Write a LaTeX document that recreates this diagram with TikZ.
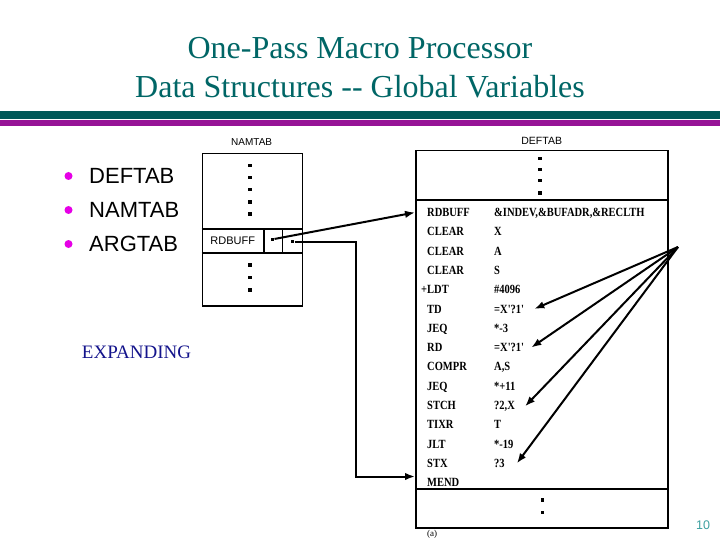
\documentclass[tikz,border=0pt]{standalone}
\usepackage{fontspec}
\setmainfont{Liberation Serif}
\setsansfont{Liberation Sans}
\newfontfamily\scanfont[FakeStretch=0.84]{Liberation Serif}
\usepackage{tikz}
\usetikzlibrary{arrows.meta, positioning, calc}
\usepackage{xcolor}
\definecolor{titleteal}{RGB}{0,102,102}
\definecolor{bartealdark}{RGB}{0,88,88}
\definecolor{barteallight}{RGB}{20,178,178}
\definecolor{barmagdark}{RGB}{150,20,150}
\definecolor{barmaglight}{RGB}{222,50,222}
\definecolor{bulletmag}{RGB}{230,0,230}
\definecolor{expblue}{RGB}{20,20,140}
\definecolor{pageteal}{RGB}{60,160,160}

\tikzset{
  tabrow/.style={font=\scanfont\bfseries\fontsize{12.5}{13}\selectfont, anchor=base west, inner sep=0pt},
  tablbl/.style={font=\sffamily\fontsize{10}{12}\selectfont, inner sep=0pt},
  tabbox/.style={draw, line width=1.5pt, inner sep=0pt, anchor=north west},
  dotmark/.style={fill, minimum size=3.2pt, inner sep=0pt},
  ptr/.style={line width=2pt, -{Latex[length=10pt,width=7.5pt]}},
  itemtxt/.style={font=\sffamily\fontsize{22}{26}\selectfont, anchor=west, inner sep=0pt}
}

\begin{document}
\begin{tikzpicture}[x=1pt, y=-1pt]
  \clip (0,0) rectangle (720,540);
  \fill[white] (0,0) rectangle (720,540);

  % title and rule bars
  \node[font=\fontsize{32}{38}\selectfont, text=titleteal, anchor=base] (title1)
    at (360,58.5) {One-Pass Macro Processor};
  \node[font=\fontsize{32}{38}\selectfont, text=titleteal, anchor=base] (title2)
    at (360,97.5) {Data Structures -{}- Global Variables};
  \shade[left color=bartealdark, middle color=barteallight, right color=bartealdark]
    (0,111.5) rectangle (720,119);
  \shade[left color=barmagdark, middle color=barmaglight, right color=barmagdark]
    (0,121) rectangle (720,125.5);

  % bullet list
  \foreach \txt/\y [count=\k] in {DEFTAB/176, NAMTAB/210, ARGTAB/244} {
    \fill[bulletmag] (68.5,\y) circle (4pt);
    \node[itemtxt] (item\k) at (89,\y) {\txt};
  }
  \node[font=\fontsize{19}{22}\selectfont, text=expblue] (expanding) at (136.5,352) {EXPANDING};

  % NAMTAB
  \node[tablbl] (namlbl) at (251.7,142) {NAMTAB};
  \node[tabbox, minimum width=100pt, minimum height=152.3pt] (namtab) at (201.7,152.7) {};
  \draw[line width=1.3pt] (201.7,229) -- (301.7,229) (201.7,253) -- (301.7,253)
    (264,229) -- (264,253) (282.7,229) -- (282.7,253);
  \node[tablbl, font=\sffamily\fontsize{11}{12}\selectfont] (namrd) at (232.8,241) {RDBUFF};
  \foreach \y in {165.7,177.8,189.9,202,214.1,265,277.5,290}
    \node[dotmark] at (250,\y) {};
  \node[dotmark] (p1) at (272.7,239.3) {};
  \node[dotmark] (p2) at (292.7,241.7) {};

  % DEFTAB
  \node[tablbl, font=\sffamily\fontsize{10.5}{12}\selectfont] (deflbl) at (541.7,140.7) {DEFTAB};
  \node[tabbox, minimum width=252pt, minimum height=377pt] (deftab) at (415,150) {};
  \draw[line width=1.3pt] (415,200) -- (667,200) (415,489) -- (667,489);
  \foreach \y in {158.3,169.5,180.7,193}
    \node[dotmark] at (540,\y) {};
  \foreach \y in {500,512.7}
    \node[dotmark] at (542.7,\y) {};

  \foreach \opc/\oprnd [count=\i] in {RDBUFF/{\&INDEV,\&BUFADR,\&RECLTH}, CLEAR/X, CLEAR/A,
      CLEAR/S, {\llap{+}LDT}/{\#4096}, TD/{=X'?1'}, JEQ/{*-3}, RD/{=X'?1'}, COMPR/{A,S},
      JEQ/{*+11}, STCH/{?2,X}, TIXR/T, JLT/{*-19}, STX/{?3}} {
    \node[tabrow] (op\i) at (427,{216.5+19.3*(\i-1)}) {\opc};
    \node[tabrow] (arg\i) at (494,{216.5+19.3*(\i-1)}) {\oprnd};
  }
  \node[tabrow] (op15) at (427,{216.5+19.3*14}) {MEND};

  % pointers
  \coordinate (bend) at (356,476.5);
  \coordinate (hub) at (678,247);
  \draw[ptr] (p1) -- (deftab.west |- op1);
  \draw[ptr] (p2) -| (bend) -- (deftab.west |- bend);
  \draw[ptr] (hub) -- ([xshift=10pt]arg6.east);
  \draw[ptr] (hub) -- ([xshift=7pt]arg8.east);
  \draw[ptr] (hub) -- ([xshift=10pt]arg11.east);
  \draw[ptr] (hub) -- ([xshift=12pt]arg14.east);

  \node[font=\fontsize{9}{10}\selectfont] (caption) at (432,534.5) {(a)};
  \node[font=\sffamily\fontsize{12.5}{14}\selectfont, text=pageteal] (pagenum) at (703,525) {10};
\end{tikzpicture}
\end{document}
